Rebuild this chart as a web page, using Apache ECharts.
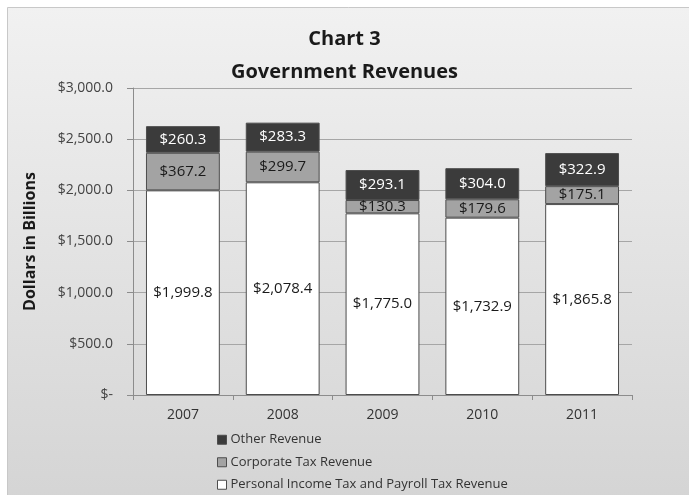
<!DOCTYPE html>
<html>
<head>
<meta charset="utf-8">
<script src="https://cdn.jsdelivr.net/npm/echarts@6/dist/echarts.min.js"></script>
<style>
  html, body { margin: 0; padding: 0; background: #ffffff; }
  #chart { width: 689px; height: 495px; }
</style>
</head>
<body>
<div id="chart"></div>
<script>
// Government revenues by year, in billions of dollars
const years = ['2007', '2008', '2009', '2010', '2011'];
const personalPayroll = [1999.8, 2078.4, 1775.0, 1732.9, 1865.8];
const corporate = [367.2, 299.7, 130.3, 179.6, 175.1];
const other = [260.3, 283.3, 293.1, 304.0, 322.9];
const yTicks = [0, 500, 1000, 1500, 2000, 2500, 3000];

const FONT = '"Open Sans", Lato, sans-serif';

function money(v) {
  if (v === 0) return '$-';
  return '$' + v.toLocaleString('en-US', { minimumFractionDigits: 1, maximumFractionDigits: 1 });
}

const chart = echarts.init(document.getElementById('chart'));

function seg(name, data, fill, textColor) {
  return {
    name: name,
    type: 'bar',
    stack: 'rev',
    data: data,
    barCategoryGap: '26%',
    itemStyle: { color: fill, borderColor: '#4d4d4d', borderWidth: 1 },
    label: {
      show: true,
      position: 'inside',
      formatter: p => money(p.value),
      color: textColor,
      fontFamily: FONT,
      fontSize: 15
    },
    emphasis: { disabled: true }
  };
}

chart.setOption({
  animation: false,
  graphic: [{
    type: 'rect',
    z: -10,
    shape: { x: 7.5, y: 7.5, width: 700, height: 500 },
    style: {
      fill: new echarts.graphic.LinearGradient(0, 0, 0, 1, [
        { offset: 0, color: '#f1f1f1' },
        { offset: 1, color: '#d4d4d4' }
      ]),
      stroke: '#c8c8c8',
      lineWidth: 1
    }
  }],
  title: {
    text: 'Chart 3\nGovernment Revenues',
    left: 'center',
    top: 18,
    textStyle: {
      fontFamily: FONT,
      fontSize: 20,
      fontWeight: 'bold',
      color: '#1a1a1a',
      lineHeight: 33
    }
  },
  legend: {
    orient: 'vertical',
    left: 217,
    top: 431,
    height: 80,
    padding: 0,
    itemGap: 5,
    itemWidth: 9,
    itemHeight: 9,
    icon: 'rect',
    data: ['Other Revenue', 'Corporate Tax Revenue', 'Personal Income Tax and Payroll Tax Revenue'],
    textStyle: { fontFamily: FONT, fontSize: 13, lineHeight: 17.5, color: '#333', padding: [0, 0, 0, -1] },
    itemStyle: { borderColor: '#4d4d4d', borderWidth: 1 }
  },
  grid: { left: 133, right: 57, top: 88, bottom: 100 },
  xAxis: {
    type: 'category',
    data: years,
    axisLine: { lineStyle: { color: '#8c8c8c' } },
    axisTick: { show: true, length: 5, lineStyle: { color: '#8c8c8c' } },
    axisLabel: { fontFamily: FONT, fontSize: 14, color: '#333', margin: 13 }
  },
  yAxis: {
    type: 'value',
    min: yTicks[0],
    max: yTicks[yTicks.length - 1],
    interval: 500,
    name: 'Dollars in Billions',
    nameLocation: 'middle',
    nameGap: 95,
    nameRotate: 90,
    nameTextStyle: { fontFamily: FONT, fontSize: 16, fontWeight: 'bold', color: '#1a1a1a' },
    axisLine: { show: true, lineStyle: { color: '#8c8c8c' } },
    axisTick: { show: true, length: 6, lineStyle: { color: '#8c8c8c' } },
    axisLabel: {
      fontFamily: FONT, fontSize: 14, color: '#444', margin: 20,
      formatter: v => money(v)
    },
    splitLine: { lineStyle: { color: '#a6a6a6' } }
  },
  series: [
    seg('Personal Income Tax and Payroll Tax Revenue', personalPayroll, '#ffffff', '#1a1a1a'),
    seg('Corporate Tax Revenue', corporate, '#a3a3a3', '#1a1a1a'),
    seg('Other Revenue', other, '#3b3b3b', '#ffffff')
  ],
  backgroundColor: 'transparent'
});
</script>
</body>
</html>
